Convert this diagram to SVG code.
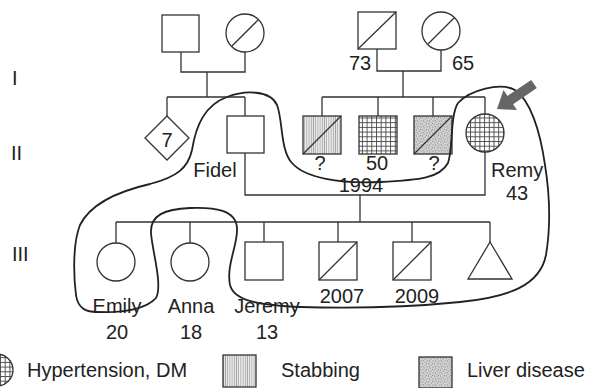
<svg xmlns="http://www.w3.org/2000/svg" width="590" height="388" viewBox="0 0 590 388">
<style>
.s{fill:#fff;stroke:#333;stroke-width:1.3}
.l{fill:none;stroke:#333;stroke-width:1.3}
.t{font-family:"Liberation Sans",Arial,sans-serif;font-size:20px;fill:#222}
.m{text-anchor:middle}
.g{fill:url(#grid);stroke:#333;stroke-width:1.3}
.v{fill:url(#vs);stroke:#333;stroke-width:1.3}
.d{fill:url(#dots);stroke:#333;stroke-width:1.3}
</style>
<defs>
<pattern id="grid" patternUnits="userSpaceOnUse" width="4.7" height="4.7">
<rect width="4.7" height="4.7" fill="#fff"/>
<path d="M0 0.5H4.7M0.5 0V4.7" stroke="#444" stroke-width="0.9"/>
</pattern>
<pattern id="vs" patternUnits="userSpaceOnUse" width="2.2" height="4">
<rect width="2.2" height="4" fill="#ececec"/>
<path d="M1 0V4" stroke="#888" stroke-width="0.7"/>
</pattern>
<pattern id="dots" patternUnits="userSpaceOnUse" width="6" height="6">
<rect width="6" height="6" fill="#d2d2d2"/>
<g fill="#777"><circle cx="1" cy="1" r="0.6"/><circle cx="4" cy="2" r="0.6"/><circle cx="2.5" cy="4" r="0.6"/><circle cx="5.2" cy="5" r="0.6"/><circle cx="0.5" cy="3.5" r="0.5"/><circle cx="3.2" cy="0.2" r="0.5"/></g>
</pattern>
</defs>
<rect width="590" height="388" fill="#fff"/>
<g id="connectors" class="l">
<path d="M181 52V72H245V52M207 72V97M167 97H245M167 97V116M245 97V116"/>
<path d="M377 49V71H441V50M403 71V97M322 97H485M322 97V116M378 97V116M433 97V116M485 97V114"/>
<path d="M245 153V195H485V152M360 195V222M116 222H490M116 222V243M190 222V243M264 222V242M338 222V242M412 222V242M490 222V242"/>
</g>
<g id="gen-labels" class="t">
<text x="12" y="85">I</text>
<text x="11" y="160">II</text>
<text x="12" y="261">III</text>
</g>
<g id="I1"><rect class="s" x="162" y="15" width="37" height="37"/></g>
<g id="I2"><circle class="s" cx="245" cy="33" r="19"/><path class="l" d="M232 46L258 20"/></g>
<g id="I3"><rect class="s" x="358" y="12" width="38" height="37"/><path class="l" d="M358 49L396 12"/><text class="t m" x="360" y="70">73</text></g>
<g id="I4"><circle class="s" cx="441" cy="31" r="19"/><path class="l" d="M428 44L454 18"/><text class="t m" x="463" y="70">65</text></g>
<g id="II1"><path class="s" d="M167 116L189 138L167 160L145 138Z"/><text class="t m" x="167" y="147">7</text></g>
<g id="Fidel"><rect class="s" x="227" y="116" width="37" height="37"/><text class="t m" x="215" y="177">Fidel</text></g>
<g id="II3"><rect class="v" x="303" y="116" width="38" height="38"/><path class="l" d="M303 154L341 116"/><text class="t m" x="320" y="170">?</text></g>
<g id="II4"><rect class="g" x="359" y="116" width="38" height="38"/><text class="t m" x="377" y="170">50</text></g>
<g id="II5"><rect class="d" x="414" y="116" width="38" height="38"/><path class="l" d="M414 154L452 116"/><text class="t m" x="434" y="170">?</text></g>
<g id="Remy"><circle class="g" cx="485" cy="133" r="19"/><text class="t" x="491" y="177">Remy</text><text class="t m" x="517" y="200">43</text></g>
<g id="marriage"><text class="t m" x="361" y="192">1994</text></g>
<g id="Emily"><circle class="s" cx="116" cy="262" r="19"/><text class="t m" x="117" y="313">Emily</text><text class="t m" x="117" y="339">20</text></g>
<g id="Anna"><circle class="s" cx="190" cy="262" r="19"/><text class="t m" x="191" y="313">Anna</text><text class="t m" x="191" y="339">18</text></g>
<g id="Jeremy"><rect class="s" x="245" y="242" width="38" height="38"/><text class="t m" x="267" y="313">Jeremy</text><text class="t m" x="267" y="339">13</text></g>
<g id="III4"><rect class="s" x="319" y="242" width="38" height="38"/><path class="l" d="M319 280L357 242"/><text class="t m" x="342" y="303">2007</text></g>
<g id="III5"><rect class="s" x="393" y="242" width="38" height="38"/><path class="l" d="M393 280L431 242"/><text class="t m" x="417" y="303">2009</text></g>
<g id="III6"><path class="s" d="M490 242L512 279H468Z"/></g>
<g id="loop"><path fill="none" stroke="#222" stroke-width="1.8" d="M97 312C120 313 145 310 156 298C163 285 152 250 151 233C150 215 165 209 190 208C215 207 236 210 237 228C238 245 226 265 230 285C234 300 255 305 300 307C360 309 420 306 460 302C510 297 540 285 546 255C551 225 549 190 545 165C540 130 530 100 515 90C500 82 470 90 458 103C450 115 453 150 448 163C440 178 420 180 380 182C340 184 305 178 292 163C280 150 283 120 277 105C270 90 245 90 227 97C205 105 196 125 192 150C188 168 177 177 150 184C115 192 90 205 80 225C72 245 74 280 76 295C78 310 88 312 97 312Z"/></g>
<g id="proband-arrow"><polygon fill="#666" points="497,109 517,110 513.1,104.2 536.8,88.1 531.2,79.9 507.5,95.9 503.5,90.1"/></g>
<g id="legend">
<circle class="g" cx="-3" cy="370" r="16"/>
<text class="t" x="27" y="377">Hypertension,  DM</text>
<rect class="v" x="223" y="355" width="33" height="32"/>
<text class="t" x="281" y="377">Stabbing</text>
<rect class="d" x="419" y="357" width="33" height="31"/>
<text class="t" x="467" y="377">Liver disease</text>
</g>
</svg>
